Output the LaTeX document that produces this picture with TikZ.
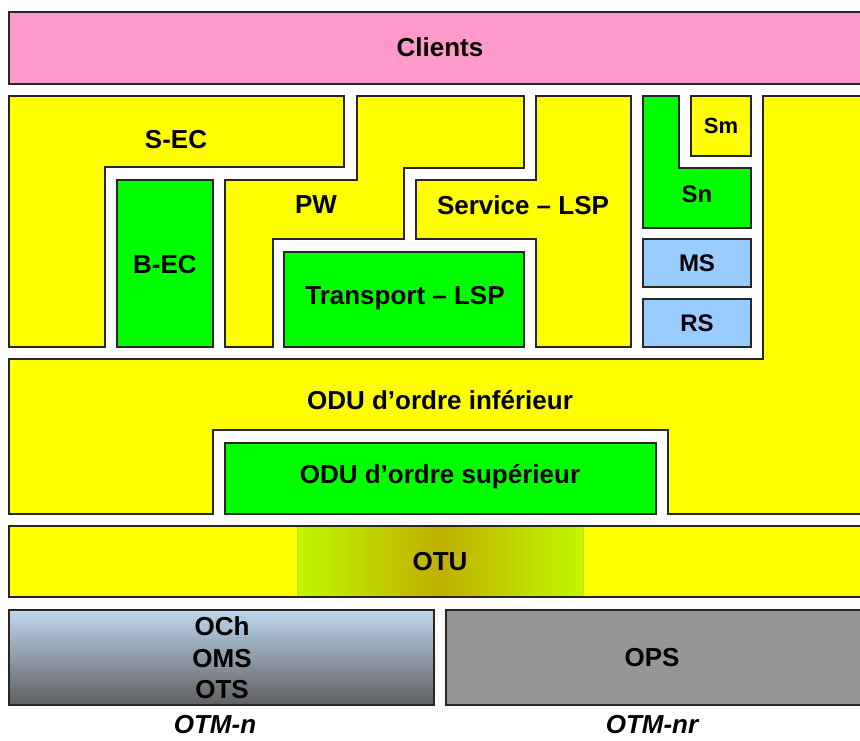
\documentclass[tikz,border=0pt]{standalone}
\usepackage{fontspec}
\setmainfont{Liberation Sans}
\usepackage{tikz}

\definecolor{clientpink}{HTML}{FF99CC}
\definecolor{layeryellow}{HTML}{FFFF00}
\definecolor{layergreen}{HTML}{00FF00}
\definecolor{sectionblue}{HTML}{99CCFF}
\definecolor{opsgray}{HTML}{969696}
\definecolor{otulime}{HTML}{C0F800}
\definecolor{otuolive}{HTML}{C0B000}
\definecolor{ochblue}{HTML}{BDD7EE}
\definecolor{otsgray}{HTML}{5F5F5F}

\begin{document}
\begin{tikzpicture}[x=1pt, y=-1pt, line width=1.5pt,
  layer/.style={draw=black!85},
  lbl/.style={font=\fontsize{26}{31.5}\selectfont\bfseries},
  smalllbl/.style={font=\fontsize{24}{28}\selectfont\bfseries},
  otmlbl/.style={font=\fontsize{26}{30}\selectfont\bfseries\itshape}]
  \useasboundingbox (0,0) rectangle (860,740);
  \clip (0,0) rectangle (860,740);

  \draw[layer, fill=clientpink] (9,12) rectangle (870,84);

  \draw[layer, fill=layeryellow] (9,96) -- (344,96) -- (344,167) -- (105,167) -- (105,347) -- (9,347) -- cycle;
  \draw[layer, fill=layergreen] (117,180) rectangle (213,347);
  \draw[layer, fill=layeryellow] (225,180) -- (357,180) -- (357,96) -- (524,96) -- (524,168) -- (404,168) -- (404,239) -- (273,239) -- (273,347) -- (225,347) -- cycle;
  \draw[layer, fill=layergreen] (284,252) rectangle (524,347);
  \draw[layer, fill=layeryellow] (416,180) -- (536,180) -- (536,96) -- (631,96) -- (631,347) -- (536,347) -- (536,239) -- (416,239) -- cycle;
  \draw[layer, fill=layergreen] (643,96) -- (679,96) -- (679,168) -- (751,168) -- (751,228) -- (643,228) -- cycle;
  \draw[layer, fill=layeryellow] (691,96) rectangle (751,156);
  \draw[layer, fill=sectionblue] (643,239) rectangle (751,287);
  \draw[layer, fill=sectionblue] (643,299) rectangle (751,347);

  \draw[layer, fill=layeryellow] (763,96) -- (870,96) -- (870,514) -- (668,514) -- (668,430) -- (213,430) -- (213,514) -- (9,514) -- (9,359) -- (763,359) -- cycle;
  \draw[layer, fill=layergreen] (225,443) rectangle (656,514);

  \fill[layeryellow] (9,526) rectangle (870,597);
  \shade[left color=otulime, right color=otulime, middle color=otuolive] (297,526) rectangle (583,597);
  \draw[line width=0.8pt, yellow!85!black] (297,526) -- (297,597);
  \draw[line width=0.8pt, yellow!85!black] (583,526) -- (583,597);
  \draw[layer] (9,526) rectangle (870,597);

  \shadedraw[layer, top color=ochblue, bottom color=otsgray] (9,610) rectangle (434,705);
  \draw[layer, fill=opsgray] (446,610) rectangle (870,705);

  \node[lbl] (clients) at (440,47) {Clients};
  \node[lbl] (sec) at (176,140) {S-EC};
  \node[lbl] (bec) at (165,265) {B-EC};
  \node[lbl] (pw) at (316,205) {PW};
  \node[lbl] (servicelsp) at (523,205) {Service -- LSP};
  \node[lbl] (transportlsp) at (405,298) {Transport -- LSP};
  \node[font=\fontsize{22}{26}\selectfont\bfseries] (sm) at (721,126) {Sm};
  \node[smalllbl] (sn) at (697,194) {Sn};
  \node[smalllbl] (ms) at (697,263) {MS};
  \node[smalllbl] (rs) at (697,323) {RS};
  \node[lbl] (oduinf) at (440,400) {ODU d’ordre inférieur};
  \node[lbl] (odusup) at (440,477) {ODU d’ordre supérieur};
  \node[lbl] (otu) at (440,562) {OTU};
  \node[lbl, align=center] (och) at (222,658) {OCh\\OMS\\OTS};
  \node[lbl] (ops) at (652,658) {OPS};
  \node[otmlbl] (otmn) at (215,725) {OTM-n};
  \node[otmlbl] (otmnr) at (652,725) {OTM-nr};
\end{tikzpicture}
\end{document}
